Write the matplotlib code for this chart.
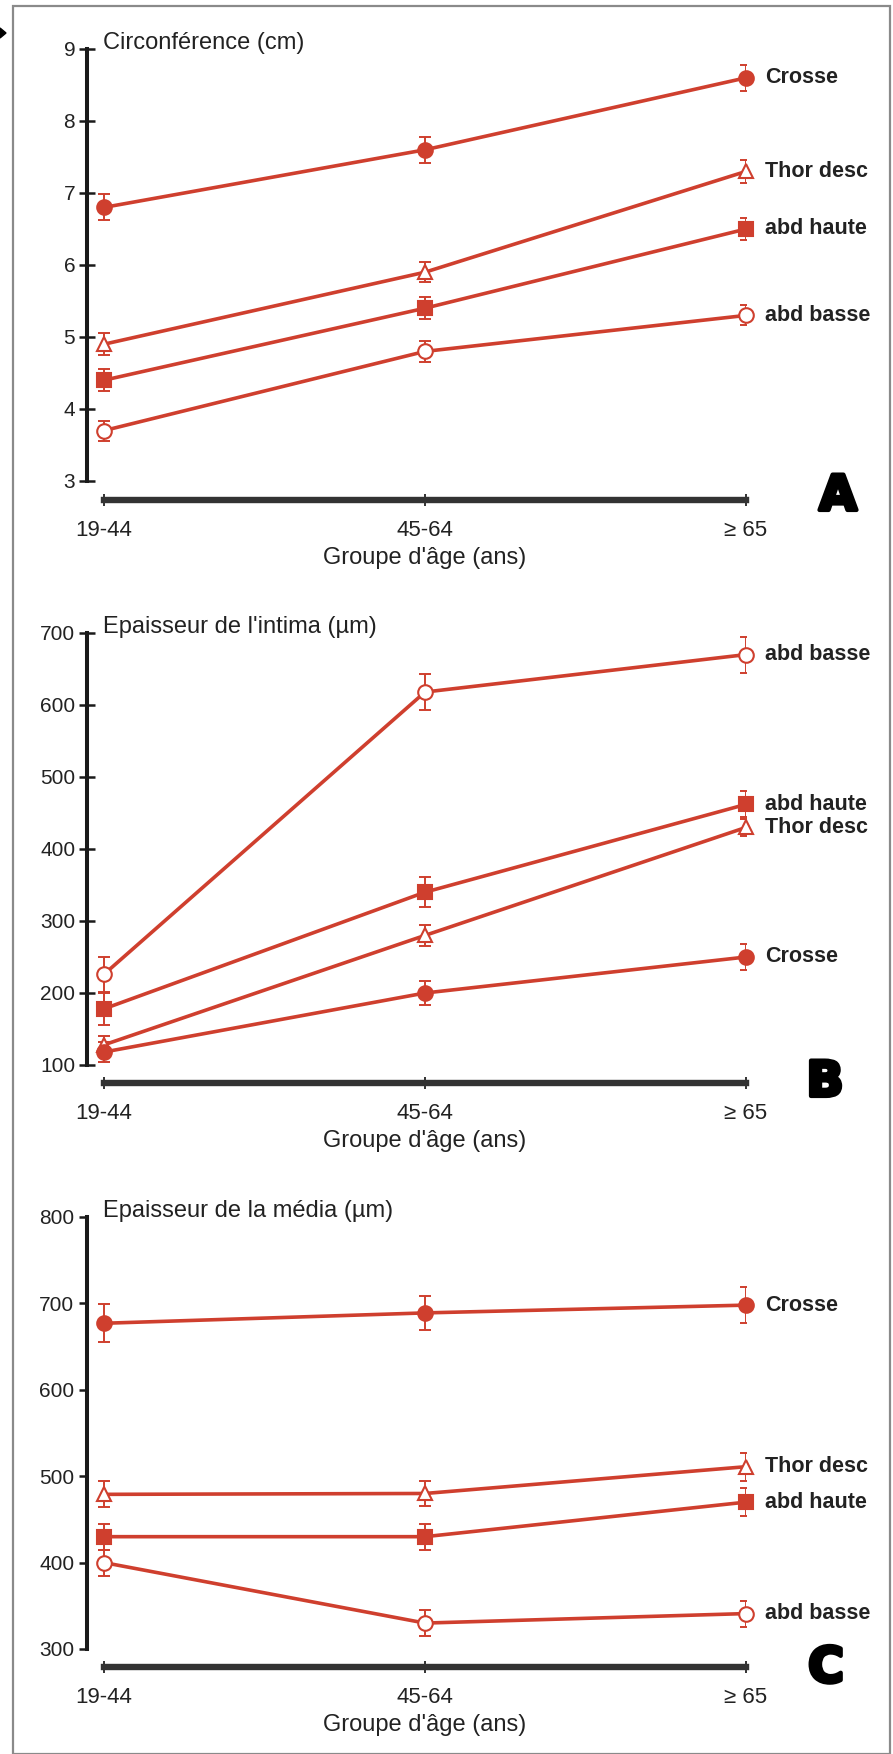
import matplotlib
matplotlib.use('Agg')
import matplotlib.pyplot as plt
from matplotlib.patches import Rectangle, Polygon
import matplotlib.patheffects as pe

plt.rcParams['font.family'] = ['Liberation Sans', 'DejaVu Sans']

groupes = ['19-44', '45-64', '\u2265 65']
xpos = [0, 1, 2]

# A : circonférence (cm)
circ_crosse = [6.8, 7.6, 8.6]
circ_crosse_err = [0.18, 0.18, 0.18]
circ_thor = [4.9, 5.9, 7.3]
circ_thor_err = [0.15, 0.14, 0.16]
circ_abdh = [4.4, 5.4, 6.5]
circ_abdh_err = [0.15, 0.15, 0.15]
circ_abdb = [3.7, 4.8, 5.3]
circ_abdb_err = [0.14, 0.15, 0.14]

# B : épaisseur de l'intima (µm)
int_crosse = [118, 200, 250]
int_crosse_err = [14, 17, 18]
int_thor = [128, 280, 430]
int_thor_err = [12, 15, 12]
int_abdh = [178, 340, 462]
int_abdh_err = [22, 21, 18]
int_abdb = [226, 618, 670]
int_abdb_err = [24, 25, 25]

# C : épaisseur de la média (µm)
med_crosse = [677, 689, 698]
med_crosse_err = [22, 20, 21]
med_thor = [479, 480, 511]
med_thor_err = [15, 14, 16]
med_abdh = [430, 430, 470]
med_abdh_err = [15, 15, 16]
med_abdb = [400, 330, 341]
med_abdb_err = [15, 15, 15]

ROUGE = '#cf3f2e'
TEXTE = '#222222'
W, H = 893, 1754

fig = plt.figure(figsize=(W / 100, H / 100), dpi=100)

# cadre gris autour de la figure
fig.add_artist(Rectangle((13 / W, 0), 877 / W, 1 - 6 / H, transform=fig.transFigure,
                         fill=False, edgecolor='#8a8a8a', lw=1.6))
fig.add_artist(Polygon([(0, 1 - 28 / H), (6 / W, 1 - 33 / H), (0, 1 - 38 / H)],
                       closed=True, transform=fig.transFigure, color='black'))


def panel(top, bottom, xgap, ylim, yticks, titre, courbes, lettre, lettre_xy, ytick_dir):
    ax = fig.add_axes([87 / W, 1 - bottom / H, 659 / W, (bottom - top) / H])
    ax.set_xlim(-2 * 17 / 642, 2)
    ax.set_ylim(*ylim)
    for s in ['top', 'right']:
        ax.spines[s].set_visible(False)
    ax.spines['left'].set_linewidth(2.9)
    ax.spines['left'].set_color('#1a1a1a')
    ax.spines['bottom'].set_position(('outward', xgap * 0.72))
    ax.spines['bottom'].set_bounds(0, 2)
    ax.spines['bottom'].set_linewidth(4.6)
    ax.spines['bottom'].set_color('#333333')
    ax.set_yticks(yticks)
    ax.set_xticks(xpos)
    ax.set_xticklabels(groupes)
    ax.tick_params(axis='y', direction=ytick_dir, length=11 if ytick_dir == 'inout' else 6,
                   width=1.8, pad=3, labelsize=15, colors='#1a1a1a', labelcolor=TEXTE)
    ax.tick_params(axis='x', direction='inout', length=9, width=1.4, pad=10,
                   labelsize=16, colors='#333333', labelcolor=TEXTE)
    ax.annotate(titre, xy=(0, 1), xycoords='axes fraction', xytext=(11.5, 4.5),
                textcoords='offset points', ha='left', va='center', fontsize=17,
                color=TEXTE)
    ax.annotate("Groupe d'âge (ans)", xy=(1, 0), xycoords=('data', 'axes fraction'),
                xytext=(0, -(xgap + 58) * 0.72), textcoords='offset points',
                ha='center', va='center', fontsize=17, color=TEXTE)

    for nom, y, err, marker, plein in courbes:
        ax.errorbar(xpos, y, yerr=err, fmt='none', ecolor=ROUGE, elinewidth=1.4,
                    capsize=4.5, capthick=1.4, zorder=2)
        ax.plot(xpos, y, color=ROUGE, lw=2.6, zorder=3)
        ax.plot(xpos, y, linestyle='none', marker=marker,
                markersize=10.5 if marker != 's' else 9.5,
                markerfacecolor=ROUGE if plein else 'white',
                markeredgecolor=ROUGE, markeredgewidth=1.5, zorder=4, clip_on=False)
        ax.annotate(nom, xy=(2, y[-1]), xytext=(14, 0), textcoords='offset points',
                    ha='left', va='center', fontsize=15.5, fontweight='bold',
                    color=TEXTE)

    fig.text(lettre_xy[0] / W, 1 - lettre_xy[1] / H, lettre, ha='center', va='center',
             fontsize=35, fontweight='bold', family='DejaVu Sans', color='black',
             path_effects=[pe.withStroke(linewidth=3, foreground='black')])
    return ax


panel(49, 481, 19, (3, 9), [3, 4, 5, 6, 7, 8, 9], 'Circonférence (cm)',
      [('Crosse', circ_crosse, circ_crosse_err, 'o', True),
       ('Thor desc', circ_thor, circ_thor_err, '^', False),
       ('abd haute', circ_abdh, circ_abdh_err, 's', True),
       ('abd basse', circ_abdb, circ_abdb_err, 'o', False)],
      'A', (838, 496), 'inout')

panel(633, 1065, 18, (100, 700), [100, 200, 300, 400, 500, 600, 700],
      "Epaisseur de l'intima (µm)",
      [('abd basse', int_abdb, int_abdb_err, 'o', False),
       ('abd haute', int_abdh, int_abdh_err, 's', True),
       ('Thor desc', int_thor, int_thor_err, '^', False),
       ('Crosse', int_crosse, int_crosse_err, 'o', True)],
      'B', (825, 1082), 'inout')

panel(1217, 1649, 18, (300, 800), [300, 400, 500, 600, 700, 800],
      'Epaisseur de la média (µm)',
      [('Crosse', med_crosse, med_crosse_err, 'o', True),
       ('Thor desc', med_thor, med_thor_err, '^', False),
       ('abd haute', med_abdh, med_abdh_err, 's', True),
       ('abd basse', med_abdb, med_abdb_err, 'o', False)],
      'C', (826, 1668), 'out')

fig.savefig('out.png', dpi=100)
